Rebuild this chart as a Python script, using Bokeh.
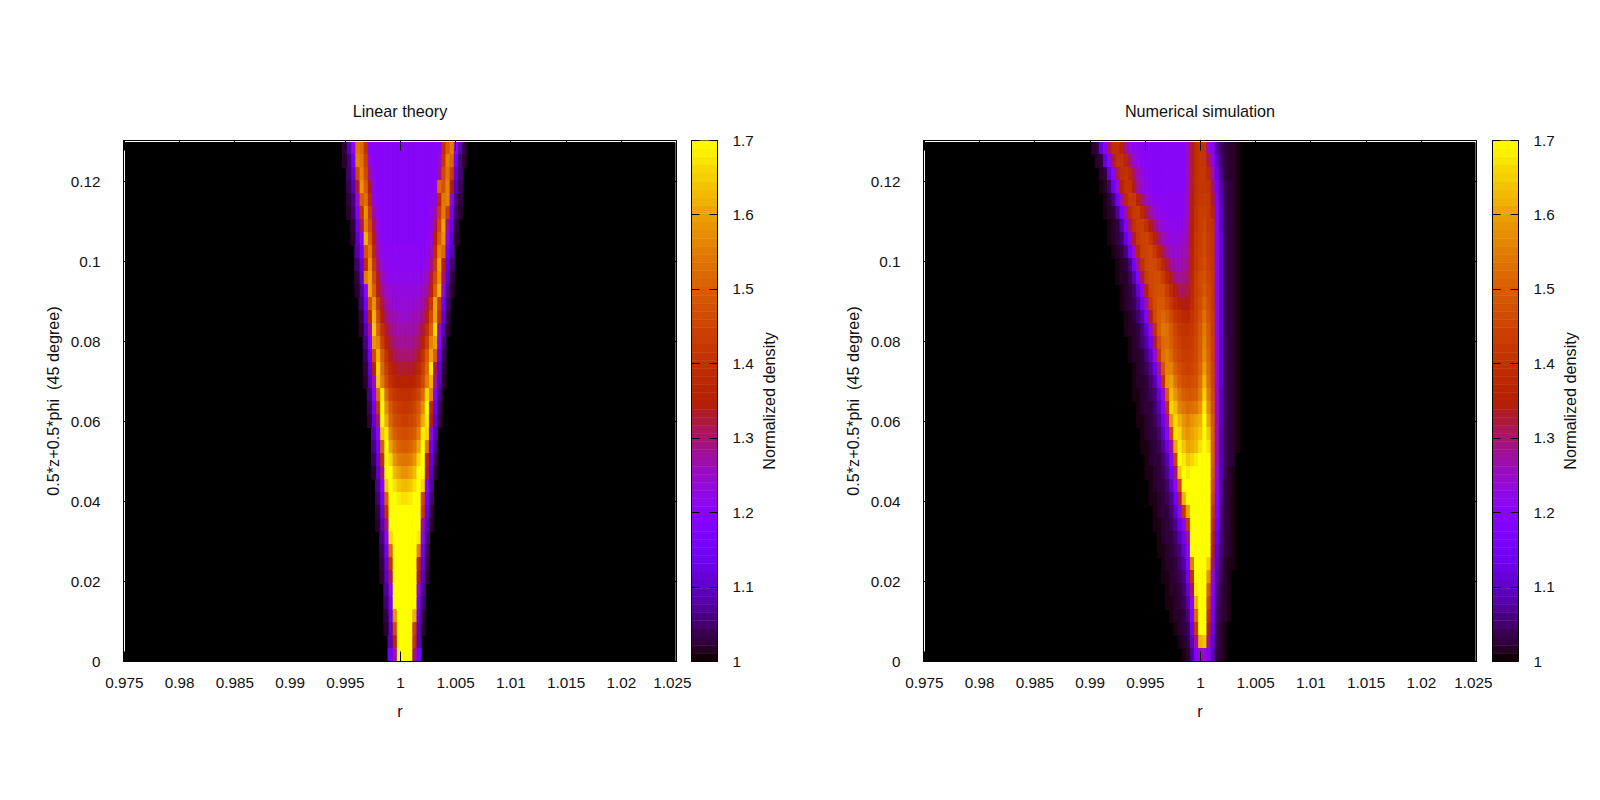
import math
from bokeh.embed import file_html
from bokeh.layouts import row
from bokeh.models import ColumnDataSource, FixedTicker, LinearAxis, LinearColorMapper, Range1d
from bokeh.plotting import figure
from bokeh.resources import INLINE
from bokeh.transform import transform

title_left = "Linear theory"
title_right = "Numerical simulation"
x_label = "r"
y_label = "0.5*z+0.5*phi \u00a0(45 degree)"
bar_label = "Normalized density"

x_ticks = [0.975, 0.98, 0.985, 0.99, 0.995, 1.0, 1.005, 1.01, 1.015, 1.02, 1.025]
x_tick_labels = ["0.975", "0.98", "0.985", "0.99", "0.995", "1", "1.005", "1.01", "1.015", "1.02", "1.025"]
y_ticks = [0, 0.02, 0.04, 0.06, 0.08, 0.1, 0.12]
y_tick_labels = ["0", "0.02", "0.04", "0.06", "0.08", "0.1", "0.12"]
bar_ticks = [1.0, 1.1, 1.2, 1.3, 1.4, 1.5, 1.6, 1.7]
bar_tick_labels = ["1", "1.1", "1.2", "1.3", "1.4", "1.5", "1.6", "1.7"]

# cell values are (density - 1) * 100, rows run from the top of the plot down
row_height = 0.00325
cell_width = 0.000375

# linear theory: two half profiles, each from the band centre outwards
linear_centre = 1.00037
linear_left = [
    [20, 20, 20, 20, 20, 20, 20, 20, 20, 40, 52, 54, 22, 9, 3],
    [20, 20, 20, 20, 20, 20, 20, 20, 24, 44, 54, 56, 15, 6, 2],
    [20, 20, 20, 20, 20, 20, 20, 21, 28, 46, 56, 46, 11, 5],
    [20, 20, 20, 20, 20, 20, 20, 22, 34, 50, 58, 33, 9, 4],
    [20, 20, 20, 20, 20, 20, 21, 23, 38, 53, 50, 24, 6, 3],
    [20, 20, 20, 20, 20, 20, 22, 27, 43, 58, 40, 17, 5, 2],
    [20, 20, 20, 20, 20, 20, 23, 31, 46, 56, 32, 13, 3],
    [20, 20, 20, 20, 20, 21, 24, 35, 50, 62, 21, 10, 2],
    [21, 21, 21, 21, 21, 22, 26, 38, 55, 48, 15, 8],
    [21, 21, 21, 21, 21, 24, 29, 42, 58, 39, 12, 5],
    [22, 22, 22, 22, 23, 26, 33, 46, 60, 55, 10, 3],
    [23, 23, 23, 24, 25, 28, 36, 50, 60, 20, 7, 2],
    [24, 24, 24, 25, 27, 32, 42, 58, 48, 15, 5],
    [25, 25, 26, 27, 29, 35, 46, 62, 37, 12, 3],
    [27, 27, 27, 29, 33, 40, 50, 64, 27, 9, 2],
    [28, 28, 29, 31, 36, 44, 56, 58, 19, 6],
    [30, 30, 31, 34, 40, 49, 62, 46, 14, 4],
    [33, 33, 34, 37, 43, 52, 66, 36, 11, 3],
    [36, 36, 37, 40, 46, 55, 64, 26, 9, 2],
    [40, 40, 42, 45, 52, 68, 52, 18, 6],
    [42, 43, 45, 49, 57, 70, 41, 14, 4],
    [44, 45, 47, 51, 61, 70, 30, 11, 3],
    [47, 48, 50, 55, 68, 64, 21, 8],
    [50, 51, 54, 60, 70, 50, 15, 6],
    [54, 55, 58, 66, 70, 39, 12, 4],
    [58, 60, 63, 70, 70, 29, 10, 2],
    [63, 64, 67, 70, 64, 20, 7],
    [67, 68, 70, 70, 50, 15, 5],
    [70, 70, 70, 70, 40, 12, 3],
    [70, 70, 70, 70, 29, 9, 2],
    [70, 70, 70, 66, 21, 6],
    [70, 70, 70, 52, 15, 4],
    [70, 70, 70, 41, 12, 3],
    [70, 70, 70, 31, 10, 2],
    [70, 70, 70, 22, 7],
    [70, 70, 70, 16, 5],
    [70, 70, 58, 13, 3],
    [70, 70, 47, 10, 2],
    [70, 70, 37, 9],
    [70, 70, 27, 14],
]
linear_right = [
    [20, 20, 20, 20, 20, 20, 20, 20, 20, 40, 50, 56, 22, 9, 3],
    [20, 20, 20, 20, 20, 20, 20, 20, 24, 42, 56, 52, 15, 6, 2],
    [20, 20, 20, 20, 20, 20, 20, 21, 28, 46, 54, 44, 11, 5],
    [20, 20, 20, 20, 20, 20, 20, 22, 52, 48, 56, 34, 9, 4],
    [20, 20, 20, 20, 20, 20, 21, 23, 38, 54, 56, 22, 6, 3],
    [20, 20, 20, 20, 20, 20, 22, 27, 43, 55, 44, 16, 5, 2],
    [20, 20, 20, 20, 20, 20, 23, 31, 46, 60, 28, 13, 3],
    [20, 20, 20, 20, 20, 21, 24, 35, 50, 58, 22, 10, 2],
    [21, 21, 21, 21, 21, 22, 26, 38, 56, 52, 15, 8],
    [21, 21, 21, 21, 21, 24, 29, 42, 60, 36, 12, 5],
    [22, 22, 22, 22, 23, 26, 33, 46, 58, 30, 10, 3],
    [23, 23, 23, 24, 25, 28, 36, 50, 62, 24, 7, 2],
    [24, 24, 24, 25, 27, 32, 42, 60, 44, 15, 5],
    [25, 25, 26, 27, 29, 35, 46, 60, 40, 12, 3],
    [27, 27, 27, 29, 33, 40, 50, 66, 24, 9, 2],
    [28, 28, 29, 31, 36, 44, 56, 60, 20, 6],
    [30, 30, 31, 34, 40, 49, 60, 50, 14, 4],
    [33, 33, 34, 37, 43, 52, 68, 32, 11, 3],
    [36, 36, 37, 40, 46, 55, 62, 28, 9, 2],
    [40, 40, 42, 45, 52, 66, 56, 18, 6],
    [42, 43, 45, 49, 57, 70, 38, 14, 4],
    [44, 45, 47, 51, 61, 68, 34, 11, 3],
    [47, 48, 50, 55, 68, 66, 22, 8],
    [50, 51, 54, 60, 70, 54, 15, 6],
    [54, 55, 58, 66, 70, 36, 12, 4],
    [58, 60, 63, 70, 70, 32, 10, 2],
    [63, 64, 67, 70, 66, 20, 7],
    [67, 68, 70, 70, 46, 15, 5],
    [70, 70, 70, 70, 42, 12, 3],
    [70, 70, 70, 70, 26, 9, 2],
    [70, 70, 70, 68, 21, 6],
    [70, 70, 70, 56, 15, 4],
    [70, 70, 70, 38, 12, 3],
    [70, 70, 70, 33, 10, 2],
    [70, 70, 70, 24, 7],
    [70, 70, 70, 16, 5],
    [70, 70, 62, 13, 3],
    [70, 70, 44, 10, 2],
    [70, 70, 40, 9],
    [70, 70, 30, 14],
]

# numerical simulation: the left list of each row ends at the cell before sim_split,
# the right list starts there and always has 13 cells
sim_start = 0.98821
sim_split = 28
sim_left = [
    [2, 3, 12, 20, 32, 40, 40, 36, 28, 24, 21, 21, 20, 20, 20, 20, 20, 20, 20, 20, 20, 20, 20],
    [2, 3, 12, 20, 32, 40, 40, 37, 30, 25, 22, 21, 20, 20, 20, 20, 20, 20, 20, 20, 20, 20],
    [2, 3, 12, 20, 32, 40, 41, 38, 31, 26, 23, 21, 20, 20, 20, 20, 20, 20, 20, 20, 20],
    [1, 2, 5, 14, 24, 36, 41, 41, 34, 28, 24, 22, 21, 20, 20, 20, 20, 20, 20, 20, 20],
    [1, 3, 6, 15, 26, 38, 42, 42, 36, 30, 25, 23, 21, 21, 21, 21, 21, 21, 21, 21],
    [1, 2, 3, 7, 16, 26, 38, 42, 43, 38, 32, 27, 24, 22, 21, 21, 21, 21, 21, 21],
    [1, 2, 3, 8, 18, 30, 40, 43, 44, 40, 34, 29, 25, 23, 22, 22, 22, 22, 22],
    [1, 2, 3, 5, 12, 20, 33, 42, 44, 45, 41, 36, 30, 26, 24, 23, 23, 23, 25],
    [1, 2, 3, 6, 14, 24, 37, 44, 45, 46, 42, 37, 31, 27, 25, 24, 25, 26],
    [1, 2, 3, 6, 15, 27, 40, 45, 46, 46, 43, 37, 32, 28, 26, 26, 27],
    [1, 2, 2, 4, 9, 18, 32, 43, 46, 47, 47, 43, 38, 33, 29, 28, 29],
    [1, 2, 3, 5, 11, 21, 36, 45, 47, 48, 47, 43, 38, 34, 31, 31],
    [1, 2, 3, 4, 7, 14, 27, 42, 47, 49, 49, 46, 42, 38, 35, 34],
    [1, 2, 3, 5, 9, 18, 34, 46, 50, 52, 50, 46, 42, 40, 38],
    [1, 2, 2, 3, 6, 11, 22, 40, 50, 54, 53, 49, 45, 42, 41],
    [1, 2, 3, 5, 8, 15, 32, 46, 52, 53, 50, 46, 44, 42],
    [1, 2, 2, 3, 6, 10, 22, 42, 53, 55, 52, 47, 45, 43],
    [1, 2, 3, 4, 7, 13, 28, 48, 56, 56, 50, 47, 45],
    [1, 2, 2, 3, 5, 9, 20, 40, 58, 60, 54, 49, 47],
    [1, 1, 2, 3, 4, 6, 12, 25, 50, 63, 58, 53, 50],
    [1, 2, 3, 3, 5, 9, 18, 40, 66, 63, 56, 54],
    [1, 1, 2, 3, 4, 7, 13, 28, 58, 66, 62, 58],
    [1, 2, 3, 3, 5, 10, 20, 45, 67, 66, 60],
    [1, 1, 2, 3, 4, 7, 13, 28, 60, 68, 64],
    [1, 2, 3, 3, 5, 9, 20, 44, 70, 68],
    [1, 1, 2, 3, 4, 7, 14, 30, 64, 70],
    [1, 2, 3, 3, 5, 10, 21, 46, 70],
    [1, 1, 2, 3, 4, 7, 14, 32, 62],
    [1, 2, 3, 3, 5, 10, 20, 42],
    [1, 1, 2, 3, 4, 7, 13, 22],
    [1, 2, 3, 3, 5, 9, 14],
    [1, 1, 2, 3, 4, 6, 11],
    [1, 2, 2, 3, 5, 8],
    [1, 1, 2, 3, 4, 6],
    [1, 2, 2, 3, 5],
    [1, 1, 2, 3, 4],
    [1, 2, 2, 3],
    [1, 2, 3],
    [1, 2],
    [1],
]
sim_right = [
    [25, 33, 40, 42, 41, 24, 20, 8, 4, 3, 2, 2, 1],
    [25, 33, 40, 42, 41, 32, 22, 10, 5, 3, 2, 2, 1],
    [25, 33, 40, 42, 42, 38, 26, 13, 6, 3, 2, 2, 1],
    [26, 33, 40, 42, 42, 41, 30, 16, 7, 4, 3, 2, 1],
    [26, 34, 40, 42, 43, 42, 33, 18, 8, 4, 3, 2, 1],
    [26, 34, 41, 43, 44, 42, 37, 19, 9, 4, 3, 2, 1],
    [27, 35, 41, 43, 45, 42, 40, 20, 9, 4, 3, 2, 1],
    [27, 35, 42, 44, 46, 43, 41, 20, 10, 4, 3, 2, 1],
    [28, 36, 42, 44, 46, 43, 41, 20, 10, 4, 3, 2, 1],
    [29, 36, 42, 45, 47, 44, 41, 21, 10, 4, 3, 2, 1],
    [30, 37, 43, 46, 48, 45, 42, 21, 10, 4, 3, 2, 1],
    [32, 38, 43, 46, 49, 46, 42, 21, 10, 4, 3, 2, 1],
    [34, 39, 44, 47, 51, 47, 42, 22, 10, 4, 3, 2, 1],
    [37, 41, 44, 48, 53, 48, 43, 22, 10, 4, 3, 2, 1],
    [40, 42, 45, 49, 55, 49, 43, 22, 10, 4, 3, 2, 1],
    [42, 43, 46, 50, 56, 50, 44, 23, 10, 4, 3, 2, 1],
    [43, 44, 46, 50, 57, 51, 44, 23, 10, 4, 3, 2, 1],
    [44, 45, 47, 51, 59, 52, 45, 24, 10, 4, 3, 2, 1],
    [46, 47, 48, 53, 62, 53, 45, 24, 10, 4, 3, 2, 1],
    [49, 49, 50, 55, 65, 55, 46, 25, 9, 4, 3, 2, 1],
    [52, 53, 54, 58, 68, 57, 47, 25, 9, 4, 3, 2, 1],
    [56, 58, 60, 62, 70, 60, 49, 26, 9, 4, 3, 2, 1],
    [58, 60, 62, 64, 70, 64, 50, 26, 8, 4, 3, 2, 1],
    [60, 61, 63, 67, 70, 67, 50, 26, 8, 4, 3, 2, 1],
    [64, 66, 68, 70, 70, 70, 50, 25, 8, 4, 3, 2, 0],
    [68, 70, 70, 70, 70, 70, 49, 23, 8, 4, 2, 1, 0],
    [70, 70, 70, 70, 70, 70, 47, 21, 7, 3, 2, 1, 0],
    [70, 70, 70, 70, 70, 70, 45, 19, 7, 3, 2, 1, 0],
    [60, 70, 70, 70, 70, 70, 42, 17, 6, 3, 2, 1, 0],
    [42, 70, 70, 70, 70, 70, 39, 15, 6, 3, 2, 1, 0],
    [28, 70, 70, 70, 70, 70, 36, 13, 5, 3, 2, 1, 0],
    [22, 70, 70, 70, 70, 70, 34, 11, 5, 3, 2, 1, 0],
    [18, 55, 70, 70, 70, 65, 30, 10, 4, 2, 1, 1, 0],
    [14, 40, 70, 70, 70, 58, 25, 8, 4, 2, 1, 0, 0],
    [11, 30, 68, 70, 70, 50, 21, 7, 3, 2, 1, 0, 0],
    [8, 22, 62, 70, 70, 45, 18, 6, 3, 2, 1, 0, 0],
    [6, 18, 52, 70, 70, 40, 16, 5, 3, 2, 1, 0, 0],
    [4, 14, 42, 70, 70, 35, 14, 4, 2, 1, 0, 0, 0],
    [3, 10, 28, 62, 64, 28, 11, 4, 2, 1, 0, 0, 0],
    [2, 7, 18, 25, 25, 18, 9, 3, 2, 1, 0, 0, 0],
]

FONT = "Liberation Sans"
TOP = 140
BOTTOM = 131


def gnuplot_palette(n):
    # gnuplot's default pm3d colours: rgbformulae 7,5,15
    colors = []
    for i in range(n):
        g = i / (n - 1)
        r = math.sqrt(g)
        gr = g ** 3
        b = max(0.0, math.sin(2 * math.pi * g))
        colors.append("#%02x%02x%02x" % (round(r * 255), round(gr * 255), round(b * 255)))
    return colors


mapper = LinearColorMapper(palette=gnuplot_palette(256), low=1.0, high=1.7)


def linear_cells():
    cells = {"l": [], "r": [], "t": [], "b": [], "v": []}
    for k in range(len(linear_left)):
        top = min(0.12975, 0.13 - row_height * k)
        bottom = 0.13 - row_height * (k + 1)
        for m, v in enumerate(linear_left[k]):
            cells["l"].append(linear_centre - (m + 1) * cell_width)
            cells["r"].append(linear_centre - m * cell_width)
            cells["t"].append(top)
            cells["b"].append(bottom)
            cells["v"].append(1 + v / 100)
        for m, v in enumerate(linear_right[k]):
            cells["l"].append(linear_centre + m * cell_width)
            cells["r"].append(linear_centre + (m + 1) * cell_width)
            cells["t"].append(top)
            cells["b"].append(bottom)
            cells["v"].append(1 + v / 100)
    return cells


def sim_cells():
    cells = {"l": [], "r": [], "t": [], "b": [], "v": []}
    for k in range(len(sim_left)):
        top = min(0.12975, 0.13 - row_height * k)
        bottom = 0.13 - row_height * (k + 1)
        values = sim_left[k] + sim_right[k]
        first = sim_split - len(sim_left[k])
        for i, v in enumerate(values):
            cells["l"].append(sim_start + (first + i) * cell_width)
            cells["r"].append(sim_start + (first + i + 1) * cell_width)
            cells["t"].append(top)
            cells["b"].append(bottom)
            cells["v"].append(1 + v / 100)
    return cells


def style_axis(axis, ticks, labels, show_labels):
    axis.ticker = FixedTicker(ticks=ticks)
    axis.minor_tick_line_color = None
    axis.major_tick_in = 10
    axis.major_tick_out = 0
    axis.major_tick_line_color = "black"
    axis.axis_line_color = "black"
    axis.major_label_text_font = FONT
    axis.major_label_text_color = "#111111"
    axis.major_label_text_font_size = "15.3px"
    axis.axis_label_text_font = FONT
    axis.axis_label_text_font_style = "normal"
    axis.axis_label_text_font_size = "16.2px"
    axis.axis_label_text_color = "#111111"
    if show_labels:
        axis.major_label_overrides = dict(zip(ticks, labels))
    else:
        axis.major_label_overrides = dict(zip(ticks, [""] * len(ticks)))
        axis.major_label_standoff = 0


def density_panel(title, cells, border_left, border_right):
    p = figure(
        frame_width=553, frame_height=521,
        x_range=Range1d(0.97491, 1.025), y_range=Range1d(0, 0.13025),
        x_axis_location=None, y_axis_location=None,
        output_backend="svg", toolbar_location=None,
        min_border_left=border_left, min_border_right=border_right,
        min_border_top=TOP, min_border_bottom=BOTTOM,
        background_fill_color="white", border_fill_color="white",
        outline_line_color="black", outline_line_width=1,
    )
    p.grid.visible = False
    p.title.text = title
    p.title.align = "center"
    p.title.text_font = FONT
    p.title.text_font_size = "16.2px"
    p.title.text_font_style = "normal"
    p.title.text_color = "#111111"
    p.title.standoff = 42

    # black field of the plot, inset by the small white gap gnuplot leaves
    p.quad(left=[0.97509], right=[1.02487], top=[0.12975], bottom=[0], color="black")
    source = ColumnDataSource(cells)
    p.quad(left="l", right="r", top="t", bottom="b", source=source,
           fill_color=transform("v", mapper), line_color=transform("v", mapper), line_width=1)

    below = LinearAxis(axis_label=x_label)
    style_axis(below, x_ticks, x_tick_labels, True)
    below.major_label_standoff = 16
    below.axis_label_standoff = 11
    p.add_layout(below, "below")
    left = LinearAxis(axis_label=y_label)
    style_axis(left, y_ticks, y_tick_labels, True)
    left.major_label_standoff = 23
    left.axis_label_standoff = 6
    p.add_layout(left, "left")
    above = LinearAxis()
    style_axis(above, x_ticks, x_tick_labels, False)
    p.add_layout(above, "above")
    right = LinearAxis()
    style_axis(right, y_ticks, y_tick_labels, False)
    p.add_layout(right, "right")
    return p


def color_bar_panel():
    p = figure(
        frame_width=26, frame_height=521,
        x_range=Range1d(0, 1), y_range=Range1d(1, 1.7),
        x_axis_location=None, y_axis_location=None,
        output_backend="svg", toolbar_location=None,
        min_border_left=0, min_border_right=39,
        min_border_top=TOP, min_border_bottom=BOTTOM,
        background_fill_color="white", border_fill_color="white",
        outline_line_color="black", outline_line_width=1,
    )
    p.grid.visible = False
    steps = 64
    lows = [1 + 0.7 * i / steps for i in range(steps)]
    highs = [1 + 0.7 * (i + 1) / steps for i in range(steps)]
    mids = [(a + b) / 2 for a, b in zip(lows, highs)]
    source = ColumnDataSource({"b": lows, "t": highs, "v": mids, "l": [0] * steps, "r": [1] * steps})
    p.quad(left="l", right="r", top="t", bottom="b", source=source,
           fill_color=transform("v", mapper), line_color=transform("v", mapper), line_width=0.5)

    left = LinearAxis()
    style_axis(left, bar_ticks, bar_tick_labels, False)
    left.major_tick_in = 8
    p.add_layout(left, "left")
    right = LinearAxis()
    style_axis(right, bar_ticks, bar_tick_labels, True)
    right.major_tick_in = 8
    right.major_label_standoff = 15
    p.add_layout(right, "right")
    return p


def bar_label_panel(border_right):
    # a thin empty figure, only its left axis label is seen: it reads upwards as in the reference
    p = figure(
        frame_width=1, frame_height=521,
        x_range=Range1d(0, 1), y_range=Range1d(1, 1.7),
        x_axis_location=None, y_axis_location=None,
        output_backend="svg", toolbar_location=None,
        min_border_left=20, min_border_right=border_right,
        min_border_top=TOP, min_border_bottom=BOTTOM,
        background_fill_color="white", border_fill_color="white",
        outline_line_color=None,
    )
    p.grid.visible = False
    axis = LinearAxis(axis_label=bar_label)
    style_axis(axis, [], [], False)
    axis.major_tick_in = 0
    axis.axis_line_color = None
    axis.major_tick_line_color = None
    axis.axis_label_standoff = 0
    p.add_layout(axis, "left")
    return p


linear_plot = density_panel(title_left, linear_cells(), 123, 15)
linear_bar = color_bar_panel()
linear_bar_label = bar_label_panel(22)
sim_plot = density_panel(title_right, sim_cells(), 123, 16)
sim_bar = color_bar_panel()
sim_bar_label = bar_label_panel(5)

page = row(linear_plot, linear_bar, linear_bar_label, sim_plot, sim_bar, sim_bar_label)
open("out.html", "w").write(file_html(page, INLINE))
